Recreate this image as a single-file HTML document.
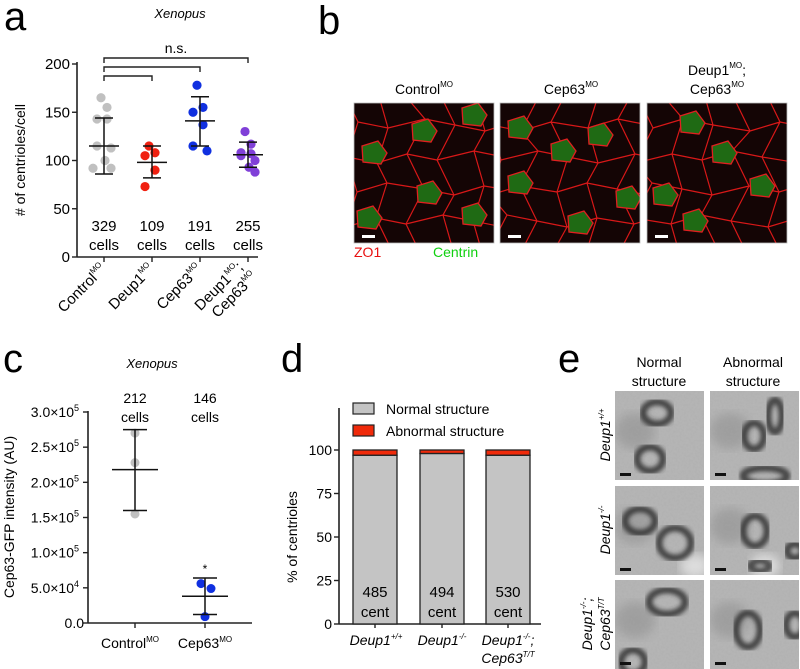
<!DOCTYPE html>
<html><head><meta charset="utf-8"><style>
html,body{margin:0;padding:0;background:#fff;}
svg{display:block;font-family:"Liberation Sans",Arial,sans-serif;}
</style></head><body>
<svg id="fig" width="800" height="669" viewBox="0 0 800 669" xmlns="http://www.w3.org/2000/svg">
<defs id="defs">
<filter id="blur1"><feGaussianBlur stdDeviation="2.2"/></filter>
<filter id="blur2"><feGaussianBlur stdDeviation="5"/></filter>
<filter id="noise" x="0" y="0" width="100%" height="100%">
<feTurbulence type="fractalNoise" baseFrequency="0.45" numOctaves="2" seed="3"/>
<feColorMatrix type="matrix" values="0 0 0 0 0.5  0 0 0 0 0.5  0 0 0 0 0.5  0 0 0 0.6 0"/>
</filter>
</defs>
<text x="4" y="30" font-size="40">a</text>
<text x="318" y="34" font-size="40">b</text>
<text x="3" y="372" font-size="40">c</text>
<text x="281" y="372" font-size="40">d</text>
<text x="558" y="372" font-size="40">e</text>

<g id="pa"></g>
<g id="pb"></g>
<g id="pc"></g>
<g id="pd"></g>
<g id="pe"></g>
</svg>
<script>
// ---- Panel a data ----
const aCategories = ["Control", "Deup1", "Cep63", "Deup1;Cep63"];
const aPoints = [[165,155,143,143,115,113,100,92,92],[115,108,105,90,73],[178,155,150,137,115,110],[130,117,108,107,105,100,93,88]];
const aMeans = [115,98,141,106];
const aSdHi = [144,115,166,119];
const aSdLo = [86,82,115,93];
const aCells = ["329","109","191","255"];
const aColors = ["#c0c0c0","#f02010","#1030e0","#8040d8"];
const aTicks = [0,50,100,150,200];
// ---- Panel c data ----
const cCategories = ["Control","Cep63"];
const cPoints = [[270000,228000,155000],[56000,49000,9000]];
const cMeans = [218000,38000];
const cSdHi = [275000,64000];
const cSdLo = [160000,12000];
const cCells = ["212","146"];
const cColors = ["#c0c0c0","#1030e0"];
const cTicks = [0,50000,100000,150000,200000,250000,300000];
const cTickLabels = ["0.0","5.0\u00d710","1.0\u00d710","1.5\u00d710","2.0\u00d710","2.5\u00d710","3.0\u00d710"];
const cTickExp = ["","4","5","5","5","5","5"];
// ---- Panel d data ----
const dCategories = ["Deup1+/+","Deup1-/-","Deup1-/-;Cep63T/T"];
const dNormal = [97,98,97];
const dAbnormal = [3,2,3];
const dCounts = ["485","494","530"];
const dTicks = [0,25,50,75,100];

const NS="http://www.w3.org/2000/svg";
function mk(parent,tag,attrs,txt){const e=document.createElementNS(NS,tag);for(const k in attrs)e.setAttribute(k,attrs[k]);if(txt!==undefined)e.textContent=txt;parent.appendChild(e);return e;}
const defs=document.getElementById('defs');
let clipN=0;
function clip(x,y,w,h){const id='cp'+(clipN++);const c=mk(defs,'clipPath',{id:id});mk(c,'rect',{x:x,y:y,width:w,height:h});return 'url(#'+id+')';}

// ===== Panel a =====
(function(){
const g=document.getElementById('pa');
const y=v=>257-v*(193/200);
const xs=[104,152,200,248];
const x=i=>xs[i];
let e;
e=mk(g,'line',{x1:77,y1:62,x2:77,y2:257,stroke:'#222','stroke-width':1.6});

e=mk(g,'line',{x1:77,y1:257,x2:258,y2:257,stroke:'#222','stroke-width':1.6});

aTicks.forEach(t=>{
 mk(g,'line',{x1:72,x2:77,y1:y(t),y2:y(t),stroke:'#222','stroke-width':1.4});
 e=mk(g,'text',{x:70,y:y(t)+5,'font-size':15,'text-anchor':'end'},String(t));
 
});
e=mk(g,'text',{transform:'translate(25,160) rotate(-90)','font-size':14,'text-anchor':'middle'},'# of centrioles/cell');

e=mk(g,'text',{x:180,y:18,'font-size':13,'font-style':'italic','text-anchor':'middle'},'Xenopus');

[[0,3,58],[0,2,67],[0,1,76]].forEach(b=>{
 e=mk(g,'path',{d:`M${x(b[0])},${b[2]+5}V${b[2]}H${x(b[1])}V${b[2]+5}`,fill:'none',stroke:'#222','stroke-width':1.4});
 
});
e=mk(g,'text',{x:176,y:53,'font-size':14,'text-anchor':'middle'},'n.s.');

aCategories.forEach((c,i)=>{
 aPoints[i].forEach((v,j)=>{
  const off=(j%2?1:-1)*(j%3)*4 + ((j%4)-1.5)*2;
  e=mk(g,'circle',{cx:x(i)+off,cy:y(v),r:4.6,fill:aColors[i]});
  
 });
 mk(g,'line',{x1:x(i),x2:x(i),y1:y(aSdHi[i]),y2:y(aSdLo[i]),stroke:'#111','stroke-width':1.5});
 mk(g,'line',{x1:x(i)-9,x2:x(i)+9,y1:y(aSdHi[i]),y2:y(aSdHi[i]),stroke:'#111','stroke-width':1.5});
 mk(g,'line',{x1:x(i)-9,x2:x(i)+9,y1:y(aSdLo[i]),y2:y(aSdLo[i]),stroke:'#111','stroke-width':1.5});
 e=mk(g,'line',{x1:x(i)-15,x2:x(i)+15,y1:y(aMeans[i]),y2:y(aMeans[i]),stroke:'#111','stroke-width':1.5});
 
 e=mk(g,'text',{x:x(i),y:231,'font-size':15,'text-anchor':'middle'},aCells[i]);
 
 mk(g,'text',{x:x(i),y:250,'font-size':15,'text-anchor':'middle'},'cells');
 mk(g,'line',{x1:x(i),x2:x(i),y1:257,y2:262,stroke:'#222','stroke-width':1.4});
});
function rot(px,py){
 const t=mk(g,'text',{transform:`translate(${px},${py}) rotate(-45)`,'font-size':15,'text-anchor':'end'});
 
 return t;
}
let t;
t=rot(107,270);t.innerHTML='Control<tspan font-size="8" dy="-7">MO</tspan>';
t=rot(155,270);t.innerHTML='Deup1<tspan font-size="8" dy="-7">MO</tspan>';
t=rot(203,270);t.innerHTML='Cep63<tspan font-size="8" dy="-7">MO</tspan>';
t=rot(244,268);t.innerHTML='Deup1<tspan font-size="8" dy="-7">MO</tspan><tspan dy="7">;</tspan>';
t=rot(258,278);t.innerHTML='Cep63<tspan font-size="8" dy="-7">MO</tspan>';
})();

// ===== Panel b =====
(function(){
const g=document.getElementById('pb');
const xs=[354,500,647];
let e;
e=mk(g,'text',{x:424,y:94,'font-size':14,'text-anchor':'middle'});e.innerHTML='Control<tspan font-size="8" dy="-7">MO</tspan>';
e=mk(g,'text',{x:571,y:94,'font-size':14,'text-anchor':'middle'});e.innerHTML='Cep63<tspan font-size="8" dy="-7">MO</tspan>';
e=mk(g,'text',{x:717,y:75,'font-size':14,'text-anchor':'middle'});e.innerHTML='Deup1<tspan font-size="8" dy="-7">MO</tspan><tspan dy="7">;</tspan>';
e=mk(g,'text',{x:717,y:94,'font-size':14,'text-anchor':'middle'});e.innerHTML='Cep63<tspan font-size="8" dy="-7">MO</tspan>';
const greens=[[[20,50],[70,28],[120,12],[75,90],[15,115],[120,112]],[[20,25],[63,48],[100,32],[20,80],[128,95],[80,120]],[[45,20],[77,50],[115,83],[18,92],[48,118]]];
xs.forEach((x0,k)=>{
 const im=mk(g,'g',{'clip-path':clip(x0,103,140,140)});
 
 mk(im,'rect',{x:x0,y:103,width:140,height:140,fill:'#140505'});
 // jittered lattice of cell borders
 const pts=[];
 for(let r=0;r<6;r++){pts.push([]);for(let c=0;c<6;c++){
  pts[r].push([x0-10+c*32+((r+k)%2)*14+((r*3+c*5+k)%7)-3, 93+r*32+((c*7+r+k)%5)*3-6]);
 }}
 let d='';
 for(let r=0;r<6;r++)for(let c=0;c<6;c++){
  const p=pts[r][c];
  if(c<5){const q=pts[r][c+1];d+=`M${p[0]},${p[1]}L${q[0]},${q[1]}`;}
  if(r<5){const q=pts[r+1][c];d+=`M${p[0]},${p[1]}L${q[0]},${q[1]}`;}
 }
 mk(im,'path',{d:d,fill:'none',stroke:'#d81818','stroke-width':1.2});
 greens[k].forEach(p=>{
  mk(im,'polygon',{points:`${x0+p[0]-12},${103+p[1]-7} ${x0+p[0]+4},${103+p[1]-12} ${x0+p[0]+13},${103+p[1]} ${x0+p[0]+7},${103+p[1]+11} ${x0+p[0]-11},${103+p[1]+9}`,fill:'#1f6a14',stroke:'#e02020','stroke-width':1.3});
 });
 mk(im,'rect',{x:x0+8,y:235,width:13,height:3,fill:'#fff'});
 mk(g,'rect',{x:x0,y:103,width:140,height:140,fill:'none',stroke:'#bbb','stroke-width':0.8});
});
e=mk(g,'text',{x:354,y:257,'font-size':14,fill:'#e81010'},'ZO1');
e=mk(g,'text',{x:433,y:257,'font-size':14,fill:'#10d010'},'Centrin');
})();

// ===== Panel c =====
(function(){
const g=document.getElementById('pc');
const y=v=>623-v*(211/300000);
const xs=[135,205];
const x=i=>xs[i];
let e;
e=mk(g,'line',{x1:88,y1:411,x2:88,y2:623,stroke:'#222','stroke-width':1.6});
e=mk(g,'line',{x1:88,y1:623,x2:252,y2:623,stroke:'#222','stroke-width':1.6});
cTicks.forEach((t,i)=>{
 mk(g,'line',{x1:83,x2:88,y1:y(t),y2:y(t),stroke:'#222','stroke-width':1.4});
 e=mk(g,'text',{x:cTickExp[i]?79:84,y:y(t)+5,'font-size':14,'text-anchor':'end'});
 e.innerHTML=cTickLabels[i]+(cTickExp[i]?`<tspan font-size="9" dy="-6">${cTickExp[i]}</tspan>`:'');
 
});
e=mk(g,'text',{transform:'translate(14,517) rotate(-90)','font-size':14,'text-anchor':'middle'},'Cep63-GFP intensity (AU)');
e=mk(g,'text',{x:152,y:368,'font-size':13,'font-style':'italic','text-anchor':'middle'},'Xenopus');
cCategories.forEach((c,i)=>{
 cPoints[i].forEach((v,j)=>{
  e=mk(g,'circle',{cx:x(i)+(i===1?[-4,6,0][j]:0),cy:y(v),r:4.5,fill:cColors[i]});
  
 });
 mk(g,'line',{x1:x(i),x2:x(i),y1:y(cSdHi[i]),y2:y(cSdLo[i]),stroke:'#111','stroke-width':1.5});
 mk(g,'line',{x1:x(i)-12,x2:x(i)+12,y1:y(cSdHi[i]),y2:y(cSdHi[i]),stroke:'#111','stroke-width':1.5});
 mk(g,'line',{x1:x(i)-12,x2:x(i)+12,y1:y(cSdLo[i]),y2:y(cSdLo[i]),stroke:'#111','stroke-width':1.5});
 e=mk(g,'line',{x1:x(i)-23,x2:x(i)+23,y1:y(cMeans[i]),y2:y(cMeans[i]),stroke:'#111','stroke-width':1.5});
 e=mk(g,'text',{x:x(i),y:403,'font-size':14,'text-anchor':'middle'},cCells[i]);
 mk(g,'text',{x:x(i),y:422,'font-size':14,'text-anchor':'middle'},'cells');
 mk(g,'line',{x1:x(i),x2:x(i),y1:623,y2:628,stroke:'#222','stroke-width':1.4});
});
e=mk(g,'text',{x:205,y:573,'font-size':12,'text-anchor':'middle'},'*');
e=mk(g,'text',{x:130,y:648,'font-size':14,'text-anchor':'middle'});e.innerHTML='Control<tspan font-size="8" dy="-6">MO</tspan>';
e=mk(g,'text',{x:205,y:648,'font-size':14,'text-anchor':'middle'});e.innerHTML='Cep63<tspan font-size="8" dy="-6">MO</tspan>';
})();

// ===== Panel d =====
(function(){
const g=document.getElementById('pd');
const y=v=>624-v*1.74;
const xs=[375,442,508];
const x=i=>xs[i];
const bw=44;
let e;
e=mk(g,'line',{x1:339,y1:408,x2:339,y2:624,stroke:'#222','stroke-width':1.6});
e=mk(g,'line',{x1:339,y1:624,x2:541,y2:624,stroke:'#222','stroke-width':1.6});
dTicks.forEach(t=>{
 mk(g,'line',{x1:334,x2:339,y1:y(t),y2:y(t),stroke:'#222','stroke-width':1.4});
 e=mk(g,'text',{x:332,y:y(t)+5,'font-size':14,'text-anchor':'end'},String(t));
});
e=mk(g,'text',{transform:'translate(297,537) rotate(-90)','font-size':14,'text-anchor':'middle'},'% of centrioles');
dCategories.forEach((c,i)=>{
 e=mk(g,'rect',{x:x(i)-bw/2,y:y(dNormal[i]),width:bw,height:y(0)-y(dNormal[i]),fill:'#c4c4c4',stroke:'#222','stroke-width':1.3});
 
 e=mk(g,'rect',{x:x(i)-bw/2,y:y(dNormal[i]+dAbnormal[i]),width:bw,height:y(dNormal[i])-y(dNormal[i]+dAbnormal[i]),fill:'#f02a0a',stroke:'#222','stroke-width':1.3});
 
 e=mk(g,'text',{x:x(i),y:597,'font-size':15,'text-anchor':'middle'},dCounts[i]);
 mk(g,'text',{x:x(i),y:617,'font-size':15,'text-anchor':'middle'},'cent');
 mk(g,'line',{x1:x(i),x2:x(i),y1:624,y2:628,stroke:'#222','stroke-width':1.4});
});
e=mk(g,'rect',{x:353,y:403,width:21,height:11,fill:'#c4c4c4',stroke:'#222','stroke-width':1.2});
e=mk(g,'text',{x:386,y:414,'font-size':14},'Normal structure');
e=mk(g,'rect',{x:353,y:425,width:21,height:11,fill:'#f02a0a',stroke:'#222','stroke-width':1.2});
e=mk(g,'text',{x:386,y:436,'font-size':14},'Abnormal structure');
e=mk(g,'text',{x:376,y:645,'font-size':14,'font-style':'italic','text-anchor':'middle'});e.innerHTML='Deup1<tspan font-size="8" dy="-6">+/+</tspan>';
e=mk(g,'text',{x:442,y:645,'font-size':14,'font-style':'italic','text-anchor':'middle'});e.innerHTML='Deup1<tspan font-size="8" dy="-6">-/-</tspan>';
e=mk(g,'text',{x:508,y:645,'font-size':14,'font-style':'italic','text-anchor':'middle'});e.innerHTML='Deup1<tspan font-size="8" dy="-6">-/-</tspan><tspan dy="6">;</tspan>';
e=mk(g,'text',{x:508,y:663,'font-size':14,'font-style':'italic','text-anchor':'middle'});e.innerHTML='Cep63<tspan font-size="8" dy="-6">T/T</tspan>';
})();

// ===== Panel e =====
(function(){
const g=document.getElementById('pe');
let e;
e=mk(g,'text',{x:659,y:367,'font-size':14,'text-anchor':'middle'},'Normal');
mk(g,'text',{x:659,y:386,'font-size':14,'text-anchor':'middle'},'structure');
e=mk(g,'text',{x:753,y:367,'font-size':14,'text-anchor':'middle'},'Abnormal');
mk(g,'text',{x:753,y:386,'font-size':14,'text-anchor':'middle'},'structure');
const cols=[615,710], rows=[391,486,580];
const rings=[[[[42,22,14,11],[35,68,13,12]],[[44,45,10,13],[65,25,7,16],[55,85,22,8]]],
 [[[25,35,15,12],[60,57,16,15]],[[45,45,12,15],[85,65,8,7],[50,80,10,5]]],
 [[[52,22,18,12],[18,82,12,12]],[[38,50,12,17],[85,45,9,12]]]];
rows.forEach((ry,r)=>cols.forEach((cx,c)=>{
 const im=mk(g,'g',{'clip-path':clip(cx,ry,89,89)});
 
 mk(im,'rect',{x:cx,y:ry,width:89,height:89,fill:'#b0b0b0'});
 mk(im,'rect',{x:cx,y:ry,width:89,height:89,filter:'url(#noise)'});
 mk(im,'ellipse',{cx:cx+20,cy:ry+40,rx:20,ry:18,fill:'#7a7a7a',opacity:0.35,filter:'url(#blur2)'});
 if(r===1)mk(im,'ellipse',{cx:cx+(c?55:80),cy:ry+80,rx:15,ry:12,fill:'#e6e6e6',opacity:0.8,filter:'url(#blur2)'});
 rings[r][c].forEach(p=>{
  mk(im,'ellipse',{cx:cx+p[0],cy:ry+p[1],rx:p[2],ry:p[3],fill:'none',stroke:'#2a2a2a','stroke-width':7,opacity:0.8,filter:'url(#blur1)'});
 });
 mk(im,'rect',{x:cx+5,y:ry+82,width:11,height:3,fill:'#111'});
}));
const rl=[['Deup1','+/+',435],['Deup1','-/-',530]];
rl.forEach(d=>{
 e=mk(g,'text',{transform:`translate(610,${d[2]}) rotate(-90)`,'font-size':14,'font-style':'italic','text-anchor':'middle'});
 e.innerHTML=`${d[0]}<tspan font-size="8" dy="-6">${d[1]}</tspan>`;
 
});
e=mk(g,'text',{transform:'translate(592,624) rotate(-90)','font-size':14,'font-style':'italic','text-anchor':'middle'});
e.innerHTML='Deup1<tspan font-size="8" dy="-6">-/-</tspan><tspan dy="6">;</tspan>';

e=mk(g,'text',{transform:'translate(610,624) rotate(-90)','font-size':14,'font-style':'italic','text-anchor':'middle'});
e.innerHTML='Cep63<tspan font-size="8" dy="-6">T/T</tspan>';

})();
</script>
</body></html>
